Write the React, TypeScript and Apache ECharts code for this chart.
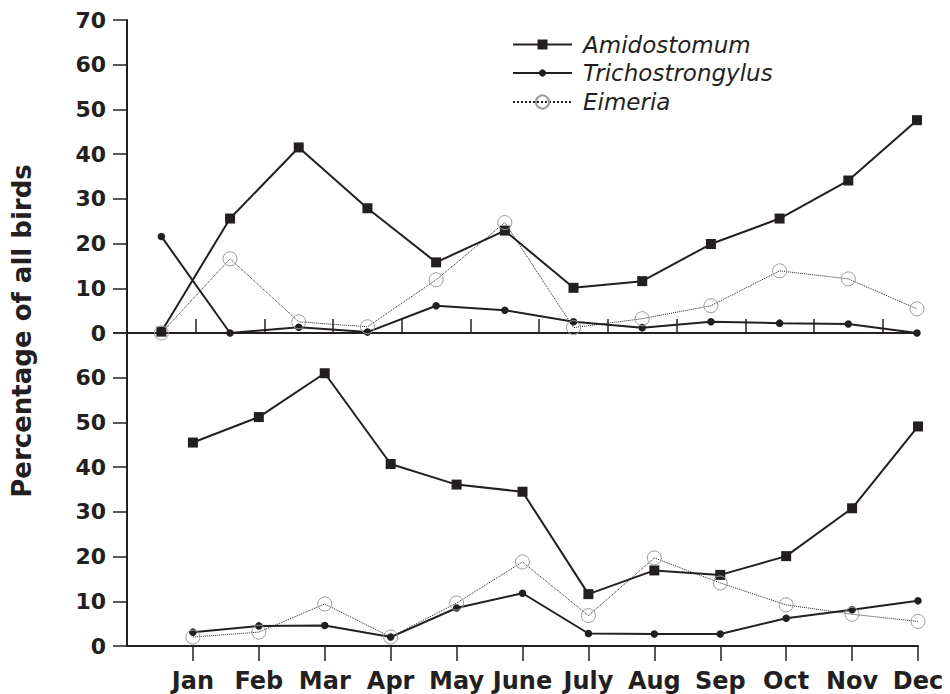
import React, { useEffect, useRef } from 'react';
import * as echarts from 'echarts';

const months = ['Jan', 'Feb', 'Mar', 'Apr', 'May', 'June', 'July', 'Aug', 'Sep', 'Oct', 'Nov', 'Dec'];
const seriesNames = ['Amidostomum', 'Trichostrongylus', 'Eimeria'];

// Upper panel
const amidoTop = [0.3, 25.6, 41.5, 27.9, 15.8, 22.9, 10.1, 11.6, 19.9, 25.6, 34.1, 47.6];
const trichoTop = [21.6, 0, 1.3, 0.2, 6.1, 5.1, 2.5, 1.2, 2.5, 2.2, 2.0, 0];
const eimeriaTop = [0, 16.6, 2.5, 1.4, 11.9, 24.7, 1.2, 3.2, 6.1, 13.9, 12.1, 5.4];

// Lower panel
const amidoBot = [45.5, 51.2, 61.0, 40.7, 36.1, 34.5, 11.6, 16.9, 15.9, 20.1, 30.8, 49.1];
const trichoBot = [3.1, 4.5, 4.6, 2.0, 8.5, 11.8, 2.8, 2.7, 2.7, 6.2, 8.1, 10.1];
const eimeriaBot = [2.0, 3.1, 9.4, 2.0, 9.6, 18.8, 6.8, 19.7, 14.1, 9.2, 7.1, 5.5];

const yMax = 70;
const yInterval = 10;
const yTitle = 'Percentage of all birds';

const INK = '#231f20';
const FONT = 'DejaVu Sans';

export default function App() {
  const ref = useRef<HTMLDivElement>(null);

  useEffect(() => {
    if (!ref.current) return;
    const chart = echarts.init(ref.current, null, { renderer: 'svg' });

    const topTickValues = months.slice(1).map((_, i) => i + 1);
    const botTickValues = months.map((_, i) => i + 1);

    const styleFor = (k: number) => {
      if (k === 0) {
        return {
          symbol: 'rect',
          symbolSize: 10,
          itemStyle: { color: INK },
          lineStyle: { color: INK, width: 2 },
        };
      }
      if (k === 1) {
        return {
          symbol: 'circle',
          symbolSize: 7.5,
          itemStyle: { color: INK },
          lineStyle: { color: INK, width: 2 },
        };
      }
      return {
        symbol: 'circle',
        symbolSize: 14,
        itemStyle: { color: 'rgba(255,255,255,0)', borderColor: '#9a9a9a', borderWidth: 1 },
        lineStyle: { color: INK, width: 1, type: 'dotted' },
      };
    };

    const topSets = [amidoTop, trichoTop, eimeriaTop];
    const botSets = [amidoBot, trichoBot, eimeriaBot];

    const series: any[] = [];
    [2, 1, 0].forEach((k) => {
      series.push({
        type: 'line',
        name: seriesNames[k],
        xAxisIndex: 0,
        yAxisIndex: 0,
        data: topSets[k].map((v, i) => [i + 0.5, v]),
        clip: false,
        z: 3 + k,
        ...styleFor(k),
      });
      series.push({
        type: 'line',
        name: seriesNames[k],
        xAxisIndex: 1,
        yAxisIndex: 1,
        data: botSets[k].map((v, i) => [i + 1, v]),
        clip: false,
        z: 3 + k,
        ...styleFor(k),
      });
    });

    const legendBase = {
      orient: 'horizontal',
      left: 512,
      padding: 0,
      itemWidth: 59,
      selectedMode: false,
      textStyle: {
        fontFamily: FONT,
        fontStyle: 'italic',
        fontSize: 23,
        color: INK,
        padding: [0, 0, 0, 6],
      },
    };

    const yLabel = {
      fontFamily: FONT,
      fontWeight: 'bold',
      fontSize: 22,
      color: INK,
      margin: 21,
    };

    const option: any = {
      animation: false,
      grid: [
        { left: 127, top: 20, width: 790, height: 313 },
        { left: 127, top: 333, width: 791, height: 313 },
      ],
      legend: [
        {
          ...legendBase,
          top: 33,
          itemHeight: 12.5,
          data: [seriesNames[0]],
          lineStyle: { width: 2 },
        },
        {
          ...legendBase,
          top: 61.5,
          itemHeight: 9,
          data: [seriesNames[1]],
          lineStyle: { width: 2 },
        },
        {
          ...legendBase,
          top: 90.5,
          itemHeight: 16.5,
          data: [seriesNames[2]],
        },
      ],
      xAxis: [
        {
          type: 'value',
          gridIndex: 0,
          min: 0,
          max: months.length - 0.5,
          interval: 1,
          axisLine: { show: true, onZero: false, lineStyle: { color: INK, width: 2 } },
          axisTick: {
            show: true,
            inside: true,
            length: 14,
            customValues: topTickValues,
            lineStyle: { color: INK, width: 1.5 },
          },
          axisLabel: { show: false },
          splitLine: { show: false },
        },
        {
          type: 'value',
          gridIndex: 1,
          min: 0,
          max: months.length,
          interval: 1,
          axisLine: { show: true, onZero: false, lineStyle: { color: INK, width: 2 } },
          axisTick: {
            show: true,
            length: 15,
            customValues: botTickValues,
            lineStyle: { color: INK, width: 1.5 },
          },
          axisLabel: {
            fontFamily: FONT,
            fontWeight: 'bold',
            fontSize: 24,
            color: INK,
            margin: 23,
            formatter: (v: number) => (v >= 1 && v <= months.length ? months[v - 1] : ''),
          },
          splitLine: { show: false },
        },
      ],
      yAxis: [
        {
          type: 'value',
          gridIndex: 0,
          min: 0,
          max: yMax,
          interval: yInterval,
          axisLine: { show: true, lineStyle: { color: INK, width: 2 } },
          axisTick: { show: true, length: 14, lineStyle: { color: INK, width: 1.5 } },
          axisLabel: yLabel,
          splitLine: { show: false },
        },
        {
          type: 'value',
          gridIndex: 1,
          min: 0,
          max: yMax,
          interval: yInterval,
          axisLine: { show: true, lineStyle: { color: INK, width: 2 } },
          axisTick: { show: true, length: 14, lineStyle: { color: INK, width: 1.5 } },
          axisLabel: {
            ...yLabel,
            formatter: (v: number) => (v >= yMax ? '' : String(v)),
          },
          splitLine: { show: false },
        },
      ],
      graphic: [
        {
          type: 'text',
          x: 22,
          y: 331,
          rotation: Math.PI / 2,
          style: {
            text: yTitle,
            fontFamily: FONT,
            fontWeight: 'bold',
            fontSize: 26,
            fill: INK,
            align: 'center',
            verticalAlign: 'middle',
          },
        },
      ],
      series,
    };

    chart.setOption(option);
    return () => chart.dispose();
  }, []);

  return (
    <div
      ref={ref}
      style={{ position: 'fixed', left: 0, top: 0, width: 950, height: 694, background: '#fff' }}
    />
  );
}
